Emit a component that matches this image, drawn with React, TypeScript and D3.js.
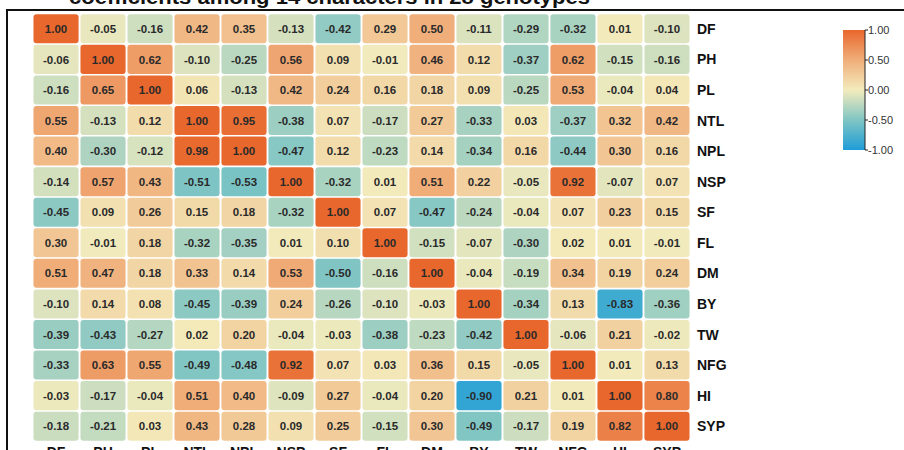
import React from "react";
import * as d3 from "d3";

const traits = ["DF", "PH", "PL", "NTL", "NPL", "NSP", "SF", "FL", "DM", "BY", "TW", "NFG", "HI", "SYP"];

const rDF = [1.0, -0.05, -0.16, 0.42, 0.35, -0.13, -0.42, 0.29, 0.5, -0.11, -0.29, -0.32, 0.01, -0.1];
const rPH = [-0.06, 1.0, 0.62, -0.1, -0.25, 0.56, 0.09, -0.01, 0.46, 0.12, -0.37, 0.62, -0.15, -0.16];
const rPL = [-0.16, 0.65, 1.0, 0.06, -0.13, 0.42, 0.24, 0.16, 0.18, 0.09, -0.25, 0.53, -0.04, 0.04];
const rNTL = [0.55, -0.13, 0.12, 1.0, 0.95, -0.38, 0.07, -0.17, 0.27, -0.33, 0.03, -0.37, 0.32, 0.42];
const rNPL = [0.4, -0.3, -0.12, 0.98, 1.0, -0.47, 0.12, -0.23, 0.14, -0.34, 0.16, -0.44, 0.3, 0.16];
const rNSP = [-0.14, 0.57, 0.43, -0.51, -0.53, 1.0, -0.32, 0.01, 0.51, 0.22, -0.05, 0.92, -0.07, 0.07];
const rSF = [-0.45, 0.09, 0.26, 0.15, 0.18, -0.32, 1.0, 0.07, -0.47, -0.24, -0.04, 0.07, 0.23, 0.15];
const rFL = [0.3, -0.01, 0.18, -0.32, -0.35, 0.01, 0.1, 1.0, -0.15, -0.07, -0.3, 0.02, 0.01, -0.01];
const rDM = [0.51, 0.47, 0.18, 0.33, 0.14, 0.53, -0.5, -0.16, 1.0, -0.04, -0.19, 0.34, 0.19, 0.24];
const rBY = [-0.1, 0.14, 0.08, -0.45, -0.39, 0.24, -0.26, -0.1, -0.03, 1.0, -0.34, 0.13, -0.83, -0.36];
const rTW = [-0.39, -0.43, -0.27, 0.02, 0.2, -0.04, -0.03, -0.38, -0.23, -0.42, 1.0, -0.06, 0.21, -0.02];
const rNFG = [-0.33, 0.63, 0.55, -0.49, -0.48, 0.92, 0.07, 0.03, 0.36, 0.15, -0.05, 1.0, 0.01, 0.13];
const rHI = [-0.03, -0.17, -0.04, 0.51, 0.4, -0.09, 0.27, -0.04, 0.2, -0.9, 0.21, 0.01, 1.0, 0.8];
const rSYP = [-0.18, -0.21, 0.03, 0.43, 0.28, 0.09, 0.25, -0.15, 0.3, -0.49, -0.17, 0.19, 0.82, 1.0];

const matrix = [rDF, rPH, rPL, rNTL, rNPL, rNSP, rSF, rFL, rDM, rBY, rTW, rNFG, rHI, rSYP];

const legendTicks = [1, 0.5, 0, -0.5, -1];
const titleText = "coefficients among 14 characters in 28 genotypes";

const font = "'Liberation Sans', Arial, sans-serif";

const locale = d3.formatLocale({ decimal: ".", thousands: ",", grouping: [3], currency: ["", ""], minus: "-" });
const fmt = locale.format(".2f");

export default function App() {
  const x = d3.scaleBand<string>().domain(traits).range([33, 690]).paddingInner(0.04).paddingOuter(0.01);
  const y = d3.scaleBand<string>().domain(traits).range([14, 441]).paddingInner(0.05).paddingOuter(0.01);
  const color = d3
    .scaleLinear<string>()
    .domain([-1, -0.5, 0, 0.5, 1])
    .range(["#1E9DD8", "#80C5C4", "#F3EBBC", "#F0AE7A", "#E8672C"])
    .interpolate(d3.interpolateRgb);
  const ly = d3.scaleLinear().domain([-1, 1]).range([150, 30]);

  const cells: any[] = [];
  matrix.forEach((row, ri) => {
    row.forEach((v, ci) => {
      cells.push({ r: traits[ri], c: traits[ci], v });
    });
  });

  const gradStops = d3.range(0, 21).map((i) => -1 + i * 0.1);

  return (
    <svg
      width={904}
      height={450}
      style={{ position: "absolute", left: 0, top: 0, background: "#fff" }}
      fontFamily={font}
    >
      <defs>
        <linearGradient id="lg" x1="0" y1="1" x2="0" y2="0">
          {gradStops.map((s) => (
            <stop key={s} offset={(s + 1) / 2} stopColor={color(s)} />
          ))}
        </linearGradient>
      </defs>
      <rect x={0} y={0} width={904} height={450} fill="#fff" />
      <text x={69} y={4} fontSize={20} fontWeight="bold" fill="#111" textLength={521} lengthAdjust="spacingAndGlyphs">
        {titleText}
      </text>
      <line x1={6} x2={904} y1={10} y2={10} stroke="#111" strokeWidth={2} />
      <line x1={7} x2={7} y1={9} y2={450} stroke="#111" strokeWidth={2} />

      {cells.map((d) => (
        <g key={d.r + d.c}>
          <rect
            x={x(d.c)}
            y={y(d.r)}
            width={x.bandwidth()}
            height={y.bandwidth()}
            rx={3}
            ry={3}
            fill={color(d.v)}
          />
          <text
            x={(x(d.c) as number) + x.bandwidth() / 2}
            y={(y(d.r) as number) + y.bandwidth() / 2}
            dy="0.36em"
            textAnchor="middle"
            fontSize={11.5}
            fontWeight="bold"
            fill="#2a2a2a"
          >
            {fmt(d.v)}
          </text>
        </g>
      ))}

      {traits.map((t) => (
        <text
          key={"rl" + t}
          x={697}
          y={(y(t) as number) + y.bandwidth() / 2}
          dy="0.36em"
          fontSize={14}
          fontWeight="bold"
          fill="#111"
        >
          {t}
        </text>
      ))}
      {traits.map((t) => (
        <text
          key={"cl" + t}
          x={(x(t) as number) + x.bandwidth() / 2}
          y={457}
          textAnchor="middle"
          fontSize={14}
          fontWeight="bold"
          fill="#111"
        >
          {t}
        </text>
      ))}

      <rect x={843} y={ly(1)} width={22} height={ly(-1) - ly(1)} fill="url(#lg)" />
      <line x1={865} x2={865} y1={ly(1)} y2={ly(-1)} stroke="#222" strokeWidth={1} />
      {legendTicks.map((t) => (
        <g key={"lt" + t}>
          <line x1={865} x2={868} y1={ly(t)} y2={ly(t)} stroke="#222" strokeWidth={1} />
          <text x={868} y={ly(t)} dy="0.35em" fontSize={11} fill="#333">
            {fmt(t)}
          </text>
        </g>
      ))}
    </svg>
  );
}
